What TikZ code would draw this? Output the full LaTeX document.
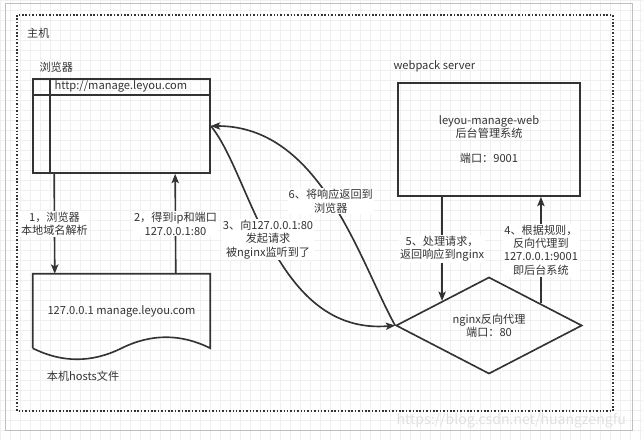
\documentclass[tikz,border=0pt]{standalone}
\usepackage{fontspec}
\setmainfont{Noto Sans CJK SC}
\usetikzlibrary{arrows.meta, shapes, positioning, calc}
\definecolor{ink}{HTML}{333333}
\tikzset{
	window/.style={rectangle,
		draw=ink,
		line width=1.4pt,
		minimum width=5.31cm,
		minimum height=2.82cm,
		},
	server/.style={rectangle,
		draw=ink,
		line width=1.4pt,
		minimum width=5.46cm,
		minimum height=3.39cm,
		align=center,
		},
	proxy/.style={diamond,
		draw=ink,
		line width=1.4pt,
		minimum width=5.58cm,
		minimum height=2.61cm,
		inner sep=0pt,
		align=center,
		},
	hostfile/.style={rectangle,
		minimum width=5.31cm,
		minimum height=2.22cm,
		},
	every node/.style={font=\fontsize{9.5}{11.5}\selectfont, text=ink},
	title/.style={anchor=south west, inner sep=1pt},
	request/.style={draw=ink, line width=1.4pt,
		-{Stealth[length=0.28cm, width=0.22cm, inset=0.06cm]}},
	msg/.style={fill=white, align=center, inner sep=1pt},
	outline/.style={draw=ink, line width=1.4pt},
}

\begin{document}
\begin{tikzpicture}[x=0.03cm, y=-0.03cm]
   \useasboundingbox (0,0) rectangle (643,440);
   
   % canvas
   \draw[black!6, step=0.3cm] (0,0) grid (643,440);
   \draw[black!25] (5,3) rectangle (632,430);
   \draw[ink, line width=1.3pt, dash pattern=on 1.3pt off 1.6pt] (17,15) rectangle (613,411);
   \node[anchor=west] (host) at (23,33) {主机};
   
   % browser
   \node[window] (browser) at (121.5,126) {};
   \draw[outline] ($(browser.north west)+(0,17)$) -- ($(browser.north east)+(0,17)$);
   \draw[outline] ($(browser.north west)+(18,0)$) -- ($(browser.south west)+(18,0)$);
   \node[anchor=west, inner sep=1pt] (url) at ($(browser.north west)+(21,8.5)$) {http://manage.leyou.com};
   \node[title] (browsertitle) at ($(browser.north west)+(6,-4)$) {浏览器};
   
   % hosts file
   \node[hostfile] (hosts) at (121.5,311) {127.0.0.1 manage.leyou.com};
   \draw[outline] (hosts.south west) -- (hosts.north west) -- (hosts.north east) -- (hosts.south east)
   	.. controls +(-29.3,-14.7) and +(29.7,-14.7) .. (hosts.south)
   	.. controls +(-29.7,14.7) and +(29.3,14.7) .. (hosts.south west);
   \node[anchor=west] (hoststitle) at ($(hosts.south west)+(10,28)$) {本机hosts文件};
   
   % webpack server
   \node[server] (webpack) at (489,139.5) {leyou-manage-web\\后台管理系统\\[10pt]端口：9001};
   \node[title] (webpacktitle) at ($(webpack.north west)+(-5,-9)$) {webpack server};
   
   % nginx
   \node[proxy] (nginx) at (489,325.5) {nginx反向代理\\端口：80};
   
   % requests
   \draw[request] ($(browser.south west)+(22,0)$) -- ($(hosts.north west)+(22,0)$)
   	node[msg, midway] {1，浏览器\\本地域名解析};
   \draw[request] ($(hosts.north west)+(143,0)$) -- ($(browser.south west)+(143,0)$)
   	node[msg, midway] {2，得到ip和端口\\127.0.0.1:80};
   \draw[request] (browser.east) .. controls +(40,48) and +(-121,10) .. (nginx.west)
   	node[msg, pos=0.47] {3、向127.0.0.1:80\\发起请求\\被nginx监听到了};
   \coordinate (rule) at ($(nginx.north east)+(5,2.3)$);
   \draw[request] (rule) -- (webpack.south -| rule)
   	node[msg, midway] {4、根据规则，\\反向代理到\\127.0.0.1:9001\\即后台系统};
   \draw[request] (webpack.south -| nginx.north west) -- (nginx.north west)
   	node[msg, midway] {5、处理请求，\\返回响应到nginx};
   \draw[request] (nginx.west) .. controls +(-36,-65) and +(110,0) .. (browser.east)
   	node[msg, pos=0.5] {6、将响应返回到\\浏览器};
   
   \node[anchor=east, text=black!12, font=\fontsize{12}{14}\selectfont] (mark) at (630,421) {https://blog.csdn.net/huangzengfu};
\end{tikzpicture}
\end{document}
